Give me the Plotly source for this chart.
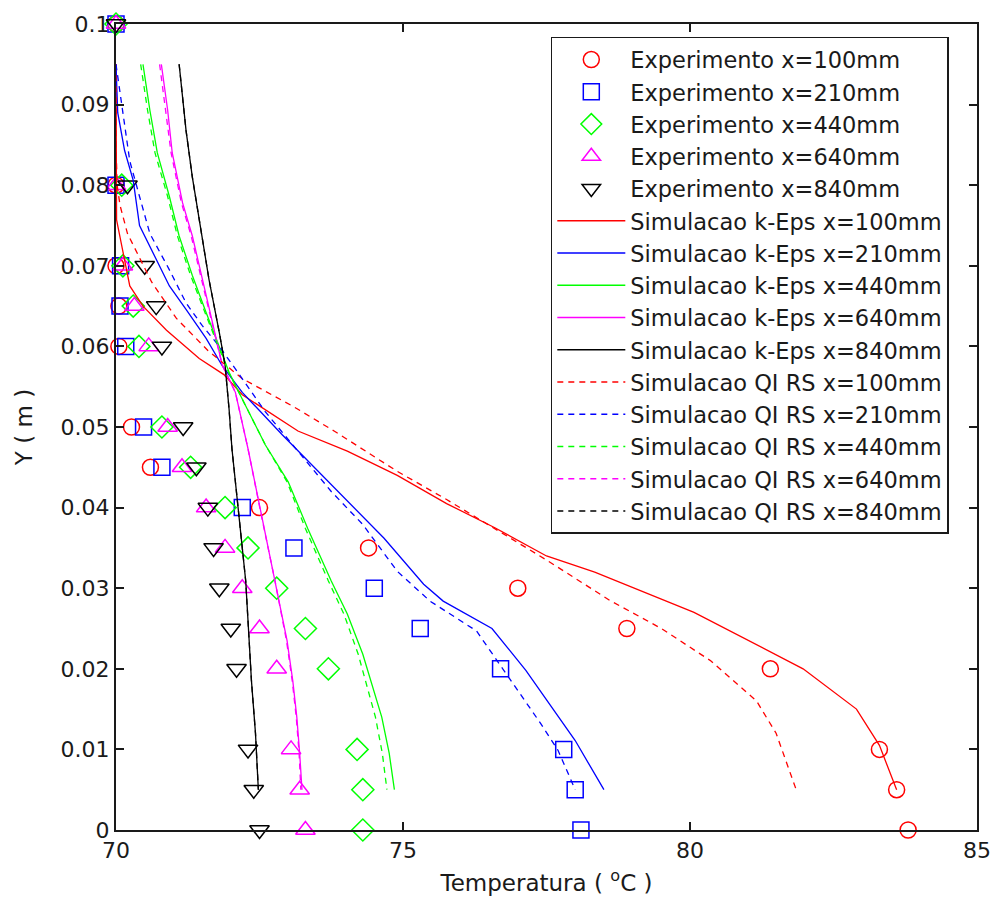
import plotly.graph_objects as go

# ---------------- data ----------------
y_exp = [0.1, 0.08, 0.07, 0.065, 0.06, 0.05, 0.045, 0.04, 0.035, 0.03, 0.025, 0.02, 0.01, 0.005, 0.0]
exp100 = [70.0, 70.0, 70.0, 70.05, 70.05, 70.27, 70.6, 72.5, 74.4, 77.0, 78.9, 81.4, 83.3, 83.6, 83.8]
exp210 = [70.0, 70.0, 70.08, 70.07, 70.17, 70.48, 70.8, 72.2, 73.1, 74.5, 75.3, 76.7, 77.8, 78.0, 78.1]
exp440 = [70.0, 70.1, 70.12, 70.3, 70.4, 70.8, 71.3, 71.9, 72.3, 72.8, 73.3, 73.7, 74.2, 74.3, 74.3]
exp640 = [70.0, 70.0, 70.12, 70.32, 70.57, 70.9, 71.15, 71.57, 71.9, 72.2, 72.5, 72.8, 73.05, 73.2, 73.3]
exp840 = [70.0, 70.2, 70.5, 70.7, 70.8, 71.17, 71.4, 71.6, 71.7, 71.8, 72.0, 72.1, 72.3, 72.4, 72.5]

# k-Eps simulations (solid)
ke100_y = [0.095, 0.085, 0.08, 0.0757, 0.0675, 0.065, 0.062, 0.0585, 0.0565, 0.054, 0.0495, 0.047, 0.044, 0.0405, 0.0375, 0.034, 0.032, 0.027, 0.020, 0.015, 0.0105, 0.005]
ke100_t = [70.0, 70.0, 70.0, 70.01, 70.24, 70.47, 70.88, 71.45, 71.88, 72.2, 73.17, 74.03, 74.9, 75.76, 76.6, 77.5, 78.34, 80.07, 81.97, 82.9, 83.3, 83.6]
ke210_y = [0.095, 0.089, 0.0843, 0.0806, 0.075, 0.0716, 0.0675, 0.0646, 0.061, 0.0576, 0.0543, 0.049, 0.0428, 0.0362, 0.0305, 0.0284, 0.025, 0.0198, 0.0111, 0.005]
ke210_t = [70.0, 70.03, 70.15, 70.3, 70.41, 70.64, 70.93, 71.22, 71.57, 71.85, 72.2, 72.9, 73.75, 74.67, 75.36, 75.7, 76.55, 77.14, 78.0, 78.5]
ke440_y = [0.095, 0.0893, 0.084, 0.0786, 0.0737, 0.0688, 0.0642, 0.060, 0.0568, 0.0543, 0.0478, 0.0432, 0.0374, 0.0309, 0.0268, 0.0218, 0.0177, 0.014, 0.0095, 0.005]
ke440_t = [70.47, 70.59, 70.72, 70.93, 71.1, 71.33, 71.57, 71.8, 71.97, 72.14, 72.6, 73.0, 73.34, 73.75, 74.03, 74.3, 74.48, 74.63, 74.76, 74.85]
ke640_y = [0.095, 0.0893, 0.084, 0.0778, 0.0737, 0.0683, 0.0633, 0.0577, 0.0543, 0.0473, 0.0391, 0.0309, 0.0235, 0.0185, 0.014, 0.0095, 0.005]
ke640_t = [70.79, 70.9, 70.98, 71.16, 71.33, 71.5, 71.67, 71.85, 72.08, 72.3, 72.53, 72.77, 72.98, 73.08, 73.15, 73.2, 73.24]
ke840_y = [0.095, 0.0868, 0.081, 0.0757, 0.0683, 0.0617, 0.0577, 0.0522, 0.0473, 0.0391, 0.0309, 0.0185, 0.012, 0.005]
ke840_t = [71.1, 71.22, 71.33, 71.45, 71.62, 71.8, 71.9, 71.97, 72.02, 72.14, 72.26, 72.36, 72.43, 72.48]

# QI RS simulations (dashed)
qi100_y = [0.095, 0.085, 0.08, 0.0775, 0.074, 0.068, 0.0635, 0.0595, 0.056, 0.0525, 0.0495, 0.0445, 0.041, 0.038, 0.0335, 0.0285, 0.025, 0.021, 0.016, 0.012, 0.005]
qi100_t = [70.0, 70.0, 70.02, 70.07, 70.2, 70.62, 71.05, 71.6, 72.2, 73.1, 73.8, 74.9, 75.76, 76.45, 77.5, 78.6, 79.5, 80.36, 81.16, 81.5, 81.85]
qi210_y = [0.095, 0.0873, 0.083, 0.0786, 0.074, 0.0695, 0.0654, 0.0626, 0.060, 0.0572, 0.0519, 0.042, 0.0379, 0.0321, 0.0284, 0.0247, 0.0214, 0.0173, 0.0132, 0.0099, 0.005]
qi210_t = [70.0, 70.15, 70.24, 70.41, 70.59, 70.93, 71.22, 71.5, 71.8, 72.08, 72.6, 73.75, 74.3, 74.9, 75.47, 76.28, 76.6, 77.0, 77.4, 77.7, 78.0]
qi440_y = [0.095, 0.0893, 0.084, 0.0786, 0.0737, 0.0688, 0.0642, 0.060, 0.0568, 0.0543, 0.0478, 0.0432, 0.0374, 0.0309, 0.0268, 0.0218, 0.0177, 0.014, 0.0095, 0.005]
qi440_t = [70.43, 70.55, 70.68, 70.9, 71.07, 71.3, 71.55, 71.78, 71.96, 72.14, 72.6, 72.98, 73.3, 73.7, 73.97, 74.22, 74.38, 74.52, 74.64, 74.72]
qi640_y = [0.095, 0.0893, 0.084, 0.0778, 0.0737, 0.0683, 0.0633, 0.0577, 0.0543, 0.0473, 0.0391, 0.0309, 0.0235, 0.0185, 0.014, 0.0095, 0.005]
qi640_t = [70.76, 70.87, 70.96, 71.14, 71.31, 71.49, 71.66, 71.85, 72.08, 72.3, 72.53, 72.77, 72.97, 73.07, 73.14, 73.19, 73.22]
qi840_y = [0.095, 0.0868, 0.081, 0.0757, 0.0683, 0.0617, 0.0577, 0.0522, 0.0473, 0.0391, 0.0309, 0.0185, 0.012, 0.005]
qi840_t = [71.1, 71.22, 71.33, 71.45, 71.62, 71.8, 71.9, 71.97, 72.02, 72.14, 72.26, 72.36, 72.43, 72.48]

x_ticks = [70, 75, 80, 85]
y_ticks = [0, 0.01, 0.02, 0.03, 0.04, 0.05, 0.06, 0.07, 0.08, 0.09, 0.1]
y_ticktext = ["0", "0.01", "0.02", "0.03", "0.04", "0.05", "0.06", "0.07", "0.08", "0.09", "0.1"]

# ---------------- figure ----------------
FONT = "DejaVu Sans, Liberation Sans, Arial, sans-serif"
TXT = "#1a1a1a"
fig = go.Figure()

exp_series = [
    ("Experimento x=100mm", exp100, "#FF0000", "circle-open", 16),
    ("Experimento x=210mm", exp210, "#0000FF", "square-open", 16),
    ("Experimento x=440mm", exp440, "#00FF00", "diamond-open", 17),
    ("Experimento x=640mm", exp640, "#FF00FF", "triangle-up-open", 17),
    ("Experimento x=840mm", exp840, "#000000", "triangle-down-open", 17),
]
for name, t, col, sym, sz in exp_series:
    fig.add_trace(go.Scatter(
        x=t, y=y_exp, mode="markers", name=name, cliponaxis=False,
        marker=dict(symbol=sym, size=sz, color=col, line=dict(color=col, width=1.5)),
    ))

ke_series = [
    ("Simulacao k-Eps x=100mm", ke100_t, ke100_y, "#FF0000"),
    ("Simulacao k-Eps x=210mm", ke210_t, ke210_y, "#0000FF"),
    ("Simulacao k-Eps x=440mm", ke440_t, ke440_y, "#00FF00"),
    ("Simulacao k-Eps x=640mm", ke640_t, ke640_y, "#FF00FF"),
    ("Simulacao k-Eps x=840mm", ke840_t, ke840_y, "#000000"),
]
for name, t, yv, col in ke_series:
    fig.add_trace(go.Scatter(x=t, y=yv, mode="lines", name=name,
                             line=dict(color=col, width=1.3)))

qi_series = [
    ("Simulacao QI RS x=100mm", qi100_t, qi100_y, "#FF0000"),
    ("Simulacao QI RS x=210mm", qi210_t, qi210_y, "#0000FF"),
    ("Simulacao QI RS x=440mm", qi440_t, qi440_y, "#00FF00"),
    ("Simulacao QI RS x=640mm", qi640_t, qi640_y, "#FF00FF"),
    ("Simulacao QI RS x=840mm", qi840_t, qi840_y, "#000000"),
]
for name, t, yv, col in qi_series:
    fig.add_trace(go.Scatter(x=t, y=yv, mode="lines", name=name,
                             line=dict(color=col, width=1.3, dash="6px,5px")))

axis_common = dict(
    showgrid=False, zeroline=False, showline=True, linecolor=TXT, linewidth=2,
    mirror="ticks", ticks="inside", ticklen=8, tickwidth=1.5, tickcolor=TXT,
    tickfont=dict(family=FONT, size=22, color=TXT),
)
fig.update_xaxes(range=[70, 85], tickvals=x_ticks, ticktext=[str(v) for v in x_ticks],
                 title=dict(text="Temperatura ( <sup>o</sup>C )", font=dict(family=FONT, size=23, color=TXT), standoff=12),
                 **axis_common)
fig.update_yaxes(range=[0, 0.1], tickvals=y_ticks, ticktext=y_ticktext,
                 title=dict(text="Y ( m )", font=dict(family=FONT, size=23, color=TXT), standoff=22),
                 **axis_common)

fig.update_layout(
    width=1003, height=916,
    margin=dict(l=116, r=16, t=20, b=86),
    paper_bgcolor="white", plot_bgcolor="white",
    font=dict(family=FONT, size=22, color=TXT),
    showlegend=True,
    legend=dict(
        x=0.505, y=0.984, xanchor="left", yanchor="top",
        bgcolor="white", bordercolor=TXT, borderwidth=1.5,
        font=dict(family=FONT, size=22.5, color=TXT),
        tracegroupgap=0, itemsizing="trace", itemwidth=68,
    ),
)

fig.write_html("out.html")
